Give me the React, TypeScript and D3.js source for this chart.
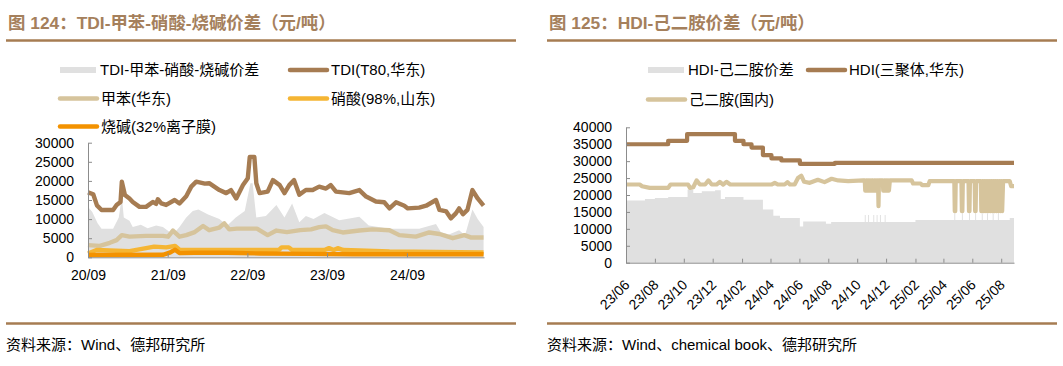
import React, { useEffect, useRef } from "react"
import * as d3 from "d3"

const parse = d3.timeParse("%Y-%m-%d")

// ---- 图124 TDI ----
const tdiSpread: [string, number][] = [
  ["2020-09-01", 13200], ["2020-09-20", 11900], ["2020-10-15", 8900], ["2020-11-02", 7500],
  ["2020-12-25", 7500], ["2021-01-20", 10400], ["2021-02-03", 15900], ["2021-02-12", 10400],
  ["2021-03-10", 9600], ["2021-03-25", 7900], ["2021-05-01", 8500], ["2021-06-01", 7600],
  ["2021-07-10", 8300], ["2021-08-10", 7900], ["2021-09-10", 6600], ["2021-10-05", 6600],
  ["2021-10-25", 7900], ["2021-11-25", 10400], ["2021-12-25", 12100], ["2022-01-20", 12500],
  ["2022-03-05", 11200], ["2022-04-26", 10000], ["2022-06-01", 8300], ["2022-07-10", 10400],
  ["2022-08-20", 12100], ["2022-09-15", 19400], ["2022-09-25", 19400], ["2022-10-12", 10400],
  ["2022-11-25", 10800], ["2023-01-12", 13700], ["2023-02-18", 10400], ["2023-03-25", 14100],
  ["2023-04-27", 9200], ["2023-05-27", 10800], ["2023-07-01", 10000], ["2023-08-20", 11600],
  ["2023-10-27", 9700], ["2024-01-27", 10600], ["2024-03-10", 8300], ["2024-06-13", 7500],
  ["2024-10-27", 7500], ["2025-01-12", 8700], ["2025-02-03", 6600], ["2025-03-12", 6000],
  ["2025-04-28", 7100], ["2025-05-25", 5800], ["2025-06-28", 12500], ["2025-07-22", 10000],
  ["2025-08-18", 7900],
]

const tdiT80: [string, number][] = [
  ["2020-09-01", 17000], ["2020-09-25", 16500], ["2020-10-12", 13600], ["2020-11-02", 12400],
  ["2020-12-25", 12400], ["2021-01-10", 13700], ["2021-01-28", 14500], ["2021-02-03", 19800],
  ["2021-02-17", 16300], ["2021-03-10", 15400], ["2021-03-25", 14500], ["2021-04-25", 13200],
  ["2021-05-25", 13200], ["2021-06-25", 14500], ["2021-07-10", 14000], ["2021-07-18", 15200],
  ["2021-08-03", 14100], ["2021-08-25", 13700], ["2021-10-03", 15000], ["2021-10-25", 14100],
  ["2021-11-25", 16000], ["2021-12-18", 18500], ["2022-01-10", 19800], ["2022-02-18", 19300],
  ["2022-03-10", 19400], ["2022-04-26", 17600], ["2022-05-27", 16800], ["2022-06-18", 17600],
  ["2022-07-12", 15400], ["2022-08-12", 18900], ["2022-09-03", 20700], ["2022-09-12", 26300],
  ["2022-10-03", 26300], ["2022-10-12", 19400], ["2022-10-27", 16800], ["2022-12-03", 17200],
  ["2022-12-27", 20200], ["2023-01-27", 18900], ["2023-02-18", 16800], ["2023-03-12", 18900],
  ["2023-04-03", 20200], ["2023-04-27", 16400], ["2023-05-27", 17600], ["2023-06-27", 17600],
  ["2023-07-27", 18500], ["2023-08-27", 18000], ["2023-09-18", 18900], ["2023-10-12", 17200],
  ["2023-12-12", 16800], ["2024-01-27", 17600], ["2024-02-27", 15900], ["2024-04-12", 14600],
  ["2024-05-20", 14400], ["2024-06-13", 12800], ["2024-07-13", 14400], ["2024-08-20", 13500],
  ["2024-09-05", 12800], ["2024-10-27", 13000], ["2024-11-28", 13500], ["2025-01-12", 15000],
  ["2025-01-28", 12400], ["2025-02-28", 12000], ["2025-03-21", 10200], ["2025-04-13", 11500],
  ["2025-04-28", 12800], ["2025-05-16", 11300], ["2025-06-05", 12400], ["2025-06-28", 17600],
  ["2025-07-22", 15400], ["2025-08-18", 13500],
]

const toluene: [string, number][] = [
  ["2020-09-01", 3200], ["2020-10-25", 3000], ["2020-12-10", 3800], ["2021-01-10", 4500],
  ["2021-02-03", 5800], ["2021-03-10", 5400], ["2021-05-25", 5600], ["2021-08-10", 5600],
  ["2021-09-03", 5400], ["2021-09-25", 7000], ["2021-10-25", 5400], ["2021-11-25", 5800],
  ["2022-01-03", 6600], ["2022-02-10", 8200], ["2022-03-10", 7100], ["2022-04-26", 7800],
  ["2022-05-18", 8900], ["2022-06-10", 7300], ["2022-07-15", 7500], ["2022-10-15", 7500],
  ["2022-12-03", 5800], ["2023-01-12", 7000], ["2023-03-01", 6600], ["2023-05-01", 7100],
  ["2023-06-20", 7300], ["2023-07-27", 7900], ["2023-08-27", 8100], ["2023-09-27", 7100],
  ["2023-11-12", 6500], ["2024-01-27", 7000], ["2024-03-28", 7300], ["2024-06-13", 7100],
  ["2024-07-28", 5800], ["2024-10-12", 5400], ["2024-12-12", 6500], ["2025-01-28", 6100],
  ["2025-03-30", 5000], ["2025-05-22", 5800], ["2025-06-20", 5200], ["2025-08-18", 5200],
]

const nitricAcid: [string, number][] = [
  ["2020-09-01", 1000], ["2020-10-10", 1900], ["2021-03-10", 1600], ["2021-05-25", 2400],
  ["2021-07-01", 2800], ["2021-08-25", 2600], ["2021-10-05", 3000], ["2021-10-25", 2000],
  ["2022-03-01", 1900], ["2022-12-31", 1900], ["2023-01-25", 2000], ["2023-02-05", 2600],
  ["2023-03-10", 2600], ["2023-03-25", 1900], ["2023-08-20", 1900], ["2023-09-10", 2400],
  ["2023-10-01", 1900], ["2023-10-20", 2400], ["2023-11-15", 1900], ["2024-03-01", 1700],
  ["2024-06-13", 1500], ["2025-08-18", 1300],
]

const causticSoda: [string, number][] = [
  ["2020-09-01", 600], ["2021-08-10", 650], ["2021-09-10", 1200], ["2021-10-05", 2000],
  ["2021-10-25", 1100], ["2022-01-01", 1200], ["2022-06-01", 1200], ["2022-11-01", 1000],
  ["2023-06-01", 900], ["2024-01-01", 800], ["2025-08-18", 800],
]

const tdiYTicks = [0, 5000, 10000, 15000, 20000, 25000, 30000]
const tdiXTicks = ["2020-09-01", "2021-09-01", "2022-09-01", "2023-09-01", "2024-09-01"]

// ---- 图125 HDI ----
const hdiSpread: [string, number][] = [
  ["2023-06-01", 18400], ["2023-07-11", 18800], ["2023-08-01", 19100], ["2023-08-29", 19400],
  ["2023-10-09", 21600], ["2023-10-21", 20600], ["2023-11-08", 21100], ["2023-12-06", 21400],
  ["2023-12-18", 18800], ["2023-12-27", 19400], ["2024-02-04", 18600], ["2024-03-16", 15700],
  ["2024-04-07", 13900], ["2024-04-21", 13200], ["2024-06-02", 10700], ["2024-06-09", 12200],
  ["2024-07-27", 11500], ["2024-08-07", 12000],
  ["2024-10-17", 14100], ["2024-10-19", 12000], ["2024-10-24", 14100], ["2024-10-26", 12000],
  ["2024-11-04", 14100], ["2024-11-06", 12000], ["2024-11-11", 14100], ["2024-11-13", 12000],
  ["2024-11-18", 14100], ["2024-11-20", 12000], ["2024-11-28", 14100], ["2024-11-30", 12000],
  ["2025-02-01", 12600],
  ["2025-04-24", 14600], ["2025-04-26", 12600], ["2025-05-10", 14600], ["2025-05-12", 12600],
  ["2025-05-25", 14600], ["2025-05-27", 12600], ["2025-06-07", 14600], ["2025-06-09", 12600],
  ["2025-06-21", 14600], ["2025-06-23", 12600], ["2025-07-02", 14600], ["2025-07-04", 12600],
  ["2025-07-14", 14600], ["2025-07-16", 12600], ["2025-07-25", 14600], ["2025-07-27", 12600],
  ["2025-08-19", 13200], ["2025-08-28", 13200],
]

const hdiTrimer: [string, number][] = [
  ["2023-06-01", 35000], ["2023-08-29", 36000], ["2023-10-08", 38000], ["2024-01-17", 36000],
  ["2024-02-04", 35000], ["2024-02-21", 34000], ["2024-03-16", 31800], ["2024-04-03", 30800],
  ["2024-04-24", 30200], ["2024-06-02", 29200], ["2024-08-15", 29500], ["2025-08-28", 29500],
]

const hexamethylenediamine: [string, number][] = [
  ["2023-06-01", 23100], ["2023-06-30", 23100], ["2023-07-05", 22600], ["2023-07-21", 22100],
  ["2023-08-29", 22100], ["2023-09-03", 23100], ["2023-10-10", 23100], ["2023-10-14", 22100],
  ["2023-10-21", 22300], ["2023-10-28", 24300], ["2023-11-04", 23100], ["2023-11-15", 23100],
  ["2023-11-22", 24300], ["2023-11-29", 23100], ["2023-12-09", 23100], ["2023-12-16", 23900],
  ["2023-12-23", 23100], ["2023-12-30", 23900], ["2024-01-07", 23100], ["2024-04-03", 23100],
  ["2024-04-10", 23600], ["2024-04-17", 23100], ["2024-05-01", 23100], ["2024-05-07", 23800],
  ["2024-05-12", 23100], ["2024-05-22", 23100], ["2024-05-29", 25000], ["2024-06-05", 25700],
  ["2024-06-11", 23900], ["2024-06-23", 23600], ["2024-07-10", 24500], ["2024-07-24", 23800],
  ["2024-08-08", 24800], ["2024-08-22", 24300], ["2024-09-12", 24100], ["2024-10-14", 24300],
  ["2024-10-17", 24300], ["2024-10-18", 21300], ["2024-10-20", 24300], ["2024-10-22", 21300],
  ["2024-10-24", 24300], ["2024-10-26", 21300], ["2024-10-28", 24300], ["2024-10-30", 21300],
  ["2024-11-01", 24300], ["2024-11-03", 24300], ["2024-11-04", 21300], ["2024-11-06", 24300],
  ["2024-11-08", 21300], ["2024-11-10", 24300], ["2024-11-11", 21300], ["2024-11-13", 24300],
  ["2024-11-14", 24300], ["2024-11-15", 16700], ["2024-11-16", 24300], ["2024-11-24", 24300],
  ["2024-11-25", 21300], ["2024-11-27", 24300], ["2024-11-29", 21300], ["2024-12-01", 24300],
  ["2024-12-03", 21300], ["2024-12-05", 24300], ["2024-12-07", 21300], ["2024-12-09", 24300],
  ["2025-01-24", 24300], ["2025-01-27", 23400], ["2025-02-12", 23400],
  ["2025-02-15", 22900], ["2025-02-28", 22900], ["2025-03-03", 24100], ["2025-04-24", 24100],
  ["2025-04-25", 15200], ["2025-04-26", 15200], ["2025-04-27", 24100], ["2025-05-09", 24100],
  ["2025-05-10", 15200], ["2025-05-11", 15200], ["2025-05-12", 24100], ["2025-05-24", 24100],
  ["2025-05-25", 15200], ["2025-05-26", 15200], ["2025-05-27", 24100], ["2025-06-06", 24100],
  ["2025-06-07", 15200], ["2025-06-08", 15200], ["2025-06-09", 24100], ["2025-06-19", 24100],
  ["2025-06-20", 15200], ["2025-06-22", 24100], ["2025-06-24", 15200], ["2025-06-26", 24100],
  ["2025-06-28", 15200], ["2025-06-30", 24100], ["2025-07-02", 15200], ["2025-07-04", 24100],
  ["2025-07-06", 15200], ["2025-07-08", 24100], ["2025-07-10", 15200], ["2025-07-12", 24100],
  ["2025-07-14", 15200], ["2025-07-16", 24100], ["2025-07-18", 15200], ["2025-07-20", 24100],
  ["2025-07-22", 15200], ["2025-07-24", 24100], ["2025-07-26", 15200], ["2025-07-28", 24100],
  ["2025-07-30", 15200], ["2025-08-01", 24100], ["2025-08-03", 15200], ["2025-08-05", 24100],
  ["2025-08-19", 24100], ["2025-08-22", 22600], ["2025-08-28", 22600],
]

const hdiYTicks = [0, 5000, 10000, 15000, 20000, 25000, 30000, 35000, 40000]
const hdiXTicks = [
  "2023-06-01", "2023-08-01", "2023-10-01", "2023-12-01", "2024-02-01", "2024-04-01", "2024-06-01",
  "2024-08-01", "2024-10-01", "2024-12-01", "2025-02-01", "2025-04-01", "2025-06-01", "2025-08-01",
]

const BROWN = "#a67c52"
const BEIGE = "#d6c49c"
const YELLOW = "#f5b533"
const ORANGE = "#f39200"
const GREY = "#e0e0e0"
const AXIS = "#8c8c8c"
const TITLE = "#a5805c"
const FONT = "'Liberation Sans', Arial, 'Noto Sans CJK SC', sans-serif"

const toPts = (rows: [string, number][]) => rows.map(r => [parse(r[0]) as Date, r[1]] as [Date, number])

function Axis({ axis, transform, rotate }: any) {
  const ref = useRef<SVGGElement>(null)
  useEffect(() => {
    const g = d3.select(ref.current)
    g.call(axis)
    g.attr("font-size", 14).attr("font-family", FONT)
    g.select(".domain").attr("stroke", AXIS)
    g.selectAll(".tick line").attr("stroke", AXIS)
    g.selectAll(".tick text").attr("fill", "#000")
    if (rotate) {
      g.selectAll(".tick text")
        .attr("y", 0)
        .attr("dy", 0)
        .attr("transform", "translate(4,23) rotate(-45)")
        .style("text-anchor", "end")
    }
  }, [axis])
  return <g ref={ref} transform={transform} />
}

function Header({ x0, x1, title }: any) {
  return (
    <g>
      <text x={x0 + 2} y={29} fill={TITLE} fontSize={17.4} fontWeight="bold" fontFamily={FONT}>
        {title}
      </text>
      <line x1={x0} x2={x1} y1={40.5} y2={40.5} stroke={BROWN} strokeWidth={2.5} />
    </g>
  )
}

function Footer({ x0, x1, text }: any) {
  return (
    <g>
      <line x1={x0} x2={x1} y1={323.5} y2={323.5} stroke={BROWN} strokeWidth={2.5} />
      <text x={x0} y={350} fontSize={15} fontFamily={FONT} fill="#000">{text}</text>
    </g>
  )
}

function LegendLine({ x, y, color, label }: any) {
  return (
    <g>
      <line x1={x} x2={x + 37} y1={y} y2={y} stroke={color} strokeWidth={4.5} strokeLinecap="round" />
      <text x={x + 41} y={y + 5} fontSize={15} fontFamily={FONT}>{label}</text>
    </g>
  )
}

function LegendBox({ x, y, label }: any) {
  return (
    <g>
      <rect x={x} y={y - 3} width={36} height={6} fill={GREY} />
      <text x={x + 40} y={y + 5} fontSize={15} fontFamily={FONT}>{label}</text>
    </g>
  )
}

function TdiChart() {
  const x = d3.scaleTime().domain([parse("2020-09-01")!, parse("2025-08-20")!]).range([88, 484])
  const y = d3.scaleLinear().domain([0, 30000]).range([257.3, 142.7])
  const line = d3.line<[Date, number]>().x(d => x(d[0])).y(d => y(d[1]))
  const area = d3.area<[Date, number]>().x(d => x(d[0])).y0(y(0)).y1(d => y(d[1]))
  const xAxis = d3.axisBottom(x).tickValues(tdiXTicks.map(t => parse(t)!))
    .tickFormat(d3.timeFormat("%y/%m") as any).tickSizeInner(-4).tickSizeOuter(0).tickPadding(13)
  const yAxis = d3.axisLeft(y).tickValues(tdiYTicks).tickFormat(d3.format("d") as any)
    .tickSizeInner(-4).tickSizeOuter(0).tickPadding(14)
  const lineStyle = { fill: "none", strokeWidth: 4.4, strokeLinejoin: "round" as const }
  return (
    <g>
      <Header x0={6} x1={516} title="图 124：TDI-甲苯-硝酸-烧碱价差（元/吨）" />
      <LegendBox x={60} y={70} label="TDI-甲苯-硝酸-烧碱价差" />
      <LegendLine x={290} y={70} color={BROWN} label="TDI(T80,华东)" />
      <LegendLine x={60} y={98.5} color={BEIGE} label="甲苯(华东)" />
      <LegendLine x={290} y={98.5} color={YELLOW} label="硝酸(98%,山东)" />
      <LegendLine x={60} y={126.5} color={ORANGE} label="烧碱(32%离子膜)" />
      <path d={area(toPts(tdiSpread))!} fill={GREY} />
      <path d={line(toPts(tdiT80))!} stroke={BROWN} {...lineStyle} />
      <path d={line(toPts(toluene))!} stroke={BEIGE} {...lineStyle} />
      <path d={line(toPts(nitricAcid))!} stroke={YELLOW} {...lineStyle} />
      <path d={line(toPts(causticSoda))!} stroke={ORANGE} {...lineStyle} />
      <Axis axis={xAxis} transform={`translate(0,${y(0)})`} />
      <Axis axis={yAxis} transform={`translate(${x.range()[0]},0)`} />
      <Footer x0={6} x1={516} text="资料来源：Wind、德邦研究所" />
    </g>
  )
}

function HdiChart() {
  const x = d3.scaleTime().domain([parse("2023-06-01")!, parse("2025-08-28")!]).range([626, 1014])
  const y = d3.scaleLinear().domain([0, 40000]).range([262.7, 127.3])
  const line = d3.line<[Date, number]>().x(d => x(d[0])).y(d => y(d[1]))
  const step = d3.line<[Date, number]>().x(d => x(d[0])).y(d => y(d[1])).curve(d3.curveStepAfter)
  const area = d3.area<[Date, number]>().x(d => x(d[0])).y0(y(0)).y1(d => y(d[1])).curve(d3.curveStepAfter)
  const xAxis = d3.axisBottom(x).tickValues(hdiXTicks.map(t => parse(t)!))
    .tickFormat(d3.timeFormat("%y/%m") as any).tickSizeInner(-4).tickSizeOuter(0)
  const yAxis = d3.axisLeft(y).tickValues(hdiYTicks).tickFormat(d3.format("d") as any)
    .tickSizeInner(-4).tickSizeOuter(0).tickPadding(14)
  const lineStyle = { fill: "none", strokeWidth: 4.2, strokeLinejoin: "round" as const }
  return (
    <g>
      <Header x0={547} x1={1057} title="图 125：HDI-己二胺价差（元/吨）" />
      <LegendBox x={648} y={70} label="HDI-己二胺价差" />
      <LegendLine x={808} y={70} color={BROWN} label="HDI(三聚体,华东)" />
      <LegendLine x={648} y={99.5} color={BEIGE} label="己二胺(国内)" />
      <path d={area(toPts(hdiSpread))!} fill={GREY} />
      <path d={line(toPts(hexamethylenediamine))!} stroke={BEIGE} {...lineStyle} />
      <path d={step(toPts(hdiTrimer))!} stroke={BROWN} {...lineStyle} />
      <Axis axis={xAxis} transform={`translate(0,${y(0)})`} rotate />
      <Axis axis={yAxis} transform={`translate(${x.range()[0]},0)`} />
      <Footer x0={547} x1={1057} text="资料来源：Wind、chemical book、德邦研究所" />
    </g>
  )
}

export default function App() {
  return (
    <div style={{ position: "absolute", left: 0, top: 0 }}>
      <svg width={1063} height={366} style={{ display: "block", background: "#fff" }}>
        <TdiChart />
        <HdiChart />
      </svg>
    </div>
  )
}
